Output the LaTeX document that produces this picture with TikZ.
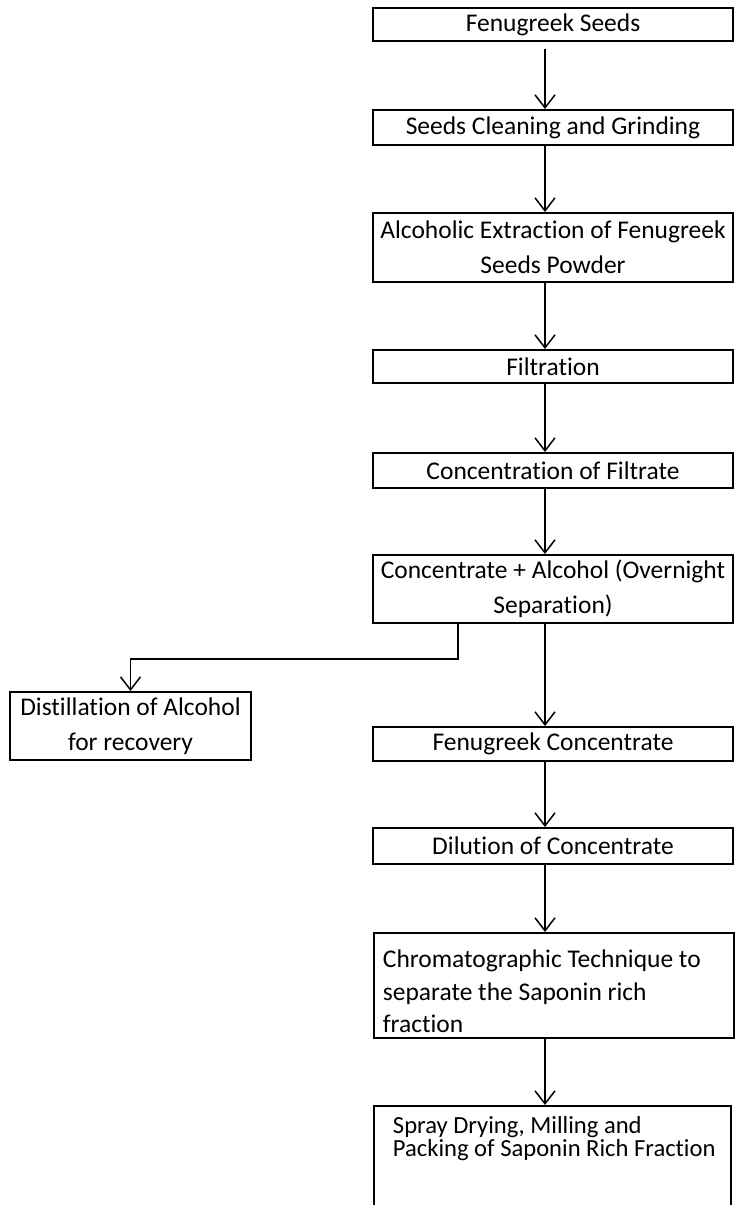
\documentclass[tikz,border=0pt]{standalone}
\usepackage{fontspec}
\setmainfont{Carlito}[Ligatures=NoCommon]
\usepackage{tikz}
\usetikzlibrary{arrows.meta, positioning}

\begin{document}
\begin{tikzpicture}[
    box/.style={rectangle, draw, line width=1.1pt, minimum width=7.2cm, align=center, inner sep=2pt, font=\fontsize{14.5}{19.8}\selectfont},
    arrow/.style={-{Straight Barb[length=0.26cm, width=0.4cm]}, line width=0.85pt},
]

% Page
\path[use as bounding box, fill=white] (0,0) rectangle (14.7,-24.1);

% Main column
\node[box, minimum height=0.66cm] (seeds) at (11.06,-0.49) {Fenugreek Seeds};
\node[box, minimum height=0.70cm] (clean) at (11.06,-2.55) {Seeds Cleaning and Grinding};
\node[box, minimum height=1.38cm] (extract) at (11.06,-4.95) {Alcoholic Extraction of Fenugreek\\Seeds Powder};
\node[box, minimum height=0.66cm] (filter) at (11.06,-7.33) {Filtration};
\node[box, minimum height=0.70cm] (concfil) at (11.06,-9.41) {Concentration of Filtrate};
\node[box, minimum height=1.36cm] (sep) at (11.06,-11.78) {Concentrate + Alcohol (Overnight\\Separation)};
\node[box, minimum height=0.68cm] (fconc) at (11.06,-14.88) {Fenugreek Concentrate};
\node[box, minimum height=0.72cm] (dilute) at (11.06,-16.92) {Dilution of Concentrate};
\node[box, anchor=north west, minimum width=0pt, inner xsep=0pt, inner ysep=0.12cm, font=\fontsize{14.5}{18.5}\selectfont] (chrom) at (7.46,-18.64) {\parbox[t][1.86cm][t]{7.2cm}{\vspace*{0.22cm}\raggedright\leftskip=0.18cm Chromatographic Technique to\\separate the Saponin rich\\fraction}};
\node[box, anchor=north west, minimum width=0pt, inner xsep=0pt, inner ysep=0.2cm, font=\fontsize{14}{9.8}\selectfont] (spray) at (7.46,-22.10) {\parbox[t][2.1cm][t]{7.14cm}{\raggedright\leftskip=0.38cm Spray Drying, Milling and\\Packing of Saponin Rich Fraction}};

% Side branch
\node[box, minimum width=4.82cm, minimum height=1.36cm] (distil) at (2.61,-14.52) {Distillation of Alcohol\\for recovery};

% Arrows
\coordinate (col) at (10.9,0);
\coordinate (split) at (9.16,-13.18);
\draw[arrow] ([yshift=-0.14cm]seeds.south -| col) -- (clean.north -| col);
\draw[arrow] (clean.south -| col) -- (extract.north -| col);
\draw[arrow] (extract.south -| col) -- (filter.north -| col);
\draw[arrow] (filter.south -| col) -- (concfil.north -| col);
\draw[arrow] (concfil.south -| col) -- (sep.north -| col);
\draw[arrow] (sep.south -| col) -- (fconc.north -| col);
\draw[arrow] (fconc.south -| col) -- (dilute.north -| col);
\draw[arrow] (dilute.south -| col) -- (chrom.north -| col);
\draw[arrow] (chrom.south -| col) -- (spray.north -| col);
\draw[arrow] (sep.south -| split) -- (split) -| (distil.north);

\end{tikzpicture}
\end{document}
